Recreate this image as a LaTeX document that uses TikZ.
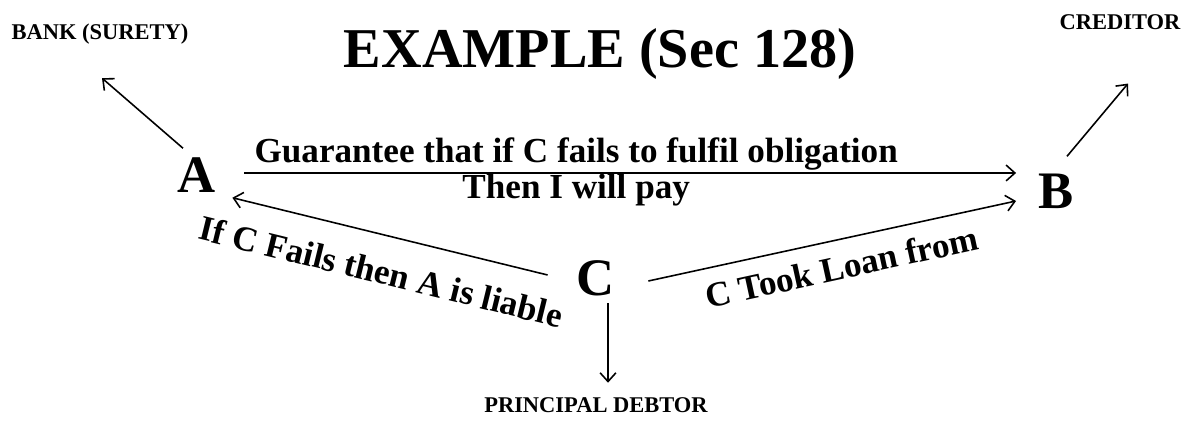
\documentclass[tikz,border=0pt]{standalone}
\usepackage{fontspec}
\setmainfont{Liberation Serif}
\usetikzlibrary{calc,arrows.meta}

\begin{document}
\begin{tikzpicture}[
  x=0.02cm, y=-0.02cm,
  party/.style={font=\bfseries\fontsize{30}{30}\selectfont, inner sep=0pt},
  role/.style={font=\bfseries\fontsize{12.8}{13}\selectfont, inner sep=0pt, anchor=base},
  rel/.style={font=\bfseries\fontsize{20}{20}\selectfont},
  arr/.style={draw, line width=0.9pt, -{Straight Barb[length=5pt,width=9pt]}},
]
\useasboundingbox (0,0) rectangle (1191,421);
% heading
\node[font=\bfseries\fontsize{32}{32}\selectfont, anchor=base] (title) at (600,68) {EXAMPLE (Sec 128)};
% roles
\node[role] (bank) at (100,40) {BANK (SURETY)};
\node[role] (creditor) at (1120,30) {CREDITOR};
\node[role] (debtor) at (596,413) {PRINCIPAL DEBTOR};
% parties
\node[party] (A) at (197,175) {A};
\node[party] (B) at (1056,191) {B};
\node[party] (C) at (596,278) {C};
% who is who
\draw[arr] ($(A.north)+(-14,-9)$) -- ($(bank.south)+(2,33)$);
\draw[arr] ($(B.north)+(11,-17)$) -- ($(creditor.south)+(8,53)$);
\draw[arr] ($(C.south)+(12,7)$) -- ($(debtor.north)+(12,-15)$);
% relations
\draw[arr] ($(A.east)+(28,-2)$) --
  node[rel, pos=0.43, above, inner sep=1pt] {Guarantee that if C fails to fulfil obligation}
  node[rel, pos=0.43, below, inner sep=0pt] {Then I will pay}
  ($(B.west)+(-22,-18)$);
\draw[arr] ($(C.west)+(-29,-3)$) --
  node[rel, sloped, below, pos=0.5, inner sep=13pt] {If C Fails then A is liable}
  ($(A.south east)+(16,5)$);
\draw[arr] ($(C.east)+(33,3)$) --
  node[rel, sloped, below, pos=0.51, inner sep=8pt] {C Took Loan from}
  ($(B.west)+(-22,10)$);
\end{tikzpicture}
\end{document}
